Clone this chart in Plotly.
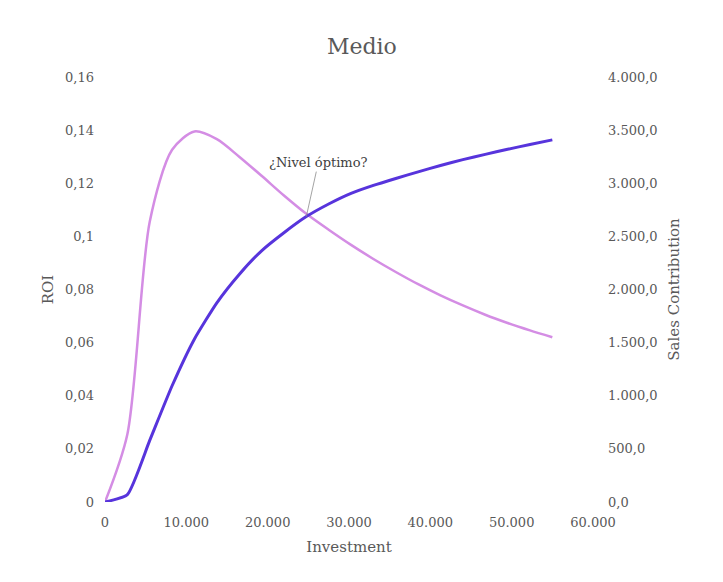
import plotly.graph_objects as go

# ---- data -------------------------------------------------------------------
investment = [0, 2750, 5500, 8250, 11000, 13750, 16500, 19250, 22000, 24750,
              27500, 30250, 33000, 35750, 38500, 41250, 44000, 46750, 49500,
              52250, 55000]
roi = [0.0, 0.0255, 0.1055, 0.1326, 0.1395, 0.1366, 0.1300, 0.1228, 0.1154,
       0.1085, 0.1025, 0.0968, 0.0915, 0.0866, 0.0820, 0.0778, 0.0740,
       0.0705, 0.0674, 0.0646, 0.0620]
sales = [0, 70, 580, 1094, 1535, 1875, 2142, 2364, 2534, 2686, 2805, 2905,
         2980, 3045, 3107, 3167, 3222, 3272, 3320, 3365, 3408]

x_ticks = [0, 10000, 20000, 30000, 40000, 50000, 60000]
x_labels = ["0", "10.000", "20.000", "30.000", "40.000", "50.000", "60.000"]
roi_ticks = [0, 0.02, 0.04, 0.06, 0.08, 0.10, 0.12, 0.14, 0.16]
roi_labels = ["0", "0,02", "0,04", "0,06", "0,08", "0,1", "0,12", "0,14", "0,16"]
sales_ticks = [0, 500, 1000, 1500, 2000, 2500, 3000, 3500, 4000]
sales_labels = ["0,0", "500,0", "1.000,0", "1.500,0", "2.000,0", "2.500,0",
                "3.000,0", "3.500,0", "4.000,0"]

FONT = "DejaVu Serif"
GREY = "#595959"

fig = go.Figure()
fig.add_trace(go.Scatter(
    x=investment, y=roi, name="ROI", mode="lines",
    line=dict(color="#D48DE4", width=2.5, shape="spline", smoothing=0.8)))
fig.add_trace(go.Scatter(
    x=investment, y=sales, name="Sales Contribution", mode="lines", yaxis="y2",
    line=dict(color="#5734DC", width=3, shape="spline", smoothing=0.5)))

# the crossing of both curves
fig.add_annotation(
    x=investment[9], y=sales[9], xref="x", yref="y2",
    text="¿Nivel óptimo?", showarrow=True, arrowhead=0, arrowwidth=0.8,
    arrowcolor="#8c8c8c", ax=12, ay=-54,
    font=dict(family=FONT, size=13, color="#404040"))

# page body adds an 8px margin, so the figure is a bit smaller than the window
fig.update_layout(
    width=715, height=574, showlegend=False,
    plot_bgcolor="white", paper_bgcolor="white",
    margin=dict(l=97, r=130, t=69, b=80, autoexpand=False),
    font=dict(family=FONT, size=13, color=GREY),
    title=dict(text="Medio", x=0.495, xanchor="center",
               yref="container", y=1 - 38 / 574, yanchor="middle",
               font=dict(family=FONT, size=22, color=GREY)),
    xaxis=dict(range=[0, 60000], tickvals=x_ticks, ticktext=x_labels,
               showgrid=False, zeroline=False, showline=False, automargin=False,
               ticklabelstandoff=11,
               title=dict(text="Investment", standoff=12,
                          font=dict(size=15, color=GREY))),
    yaxis=dict(range=[0, 0.16], tickvals=roi_ticks, ticktext=roi_labels,
               showgrid=False, zeroline=False, showline=False, automargin=False,
               ticklabelstandoff=10,
               title=dict(text="ROI", standoff=7, font=dict(size=15, color=GREY))),
    yaxis2=dict(range=[0, 4000], tickvals=sales_ticks, ticktext=sales_labels,
                overlaying="y", side="right", showgrid=False, zeroline=False,
                showline=False, automargin=False, ticklabelstandoff=14,
                title=dict(text="Sales Contribution", standoff=11,
                           font=dict(size=15, color=GREY))),
)

fig.write_html("out.html")
